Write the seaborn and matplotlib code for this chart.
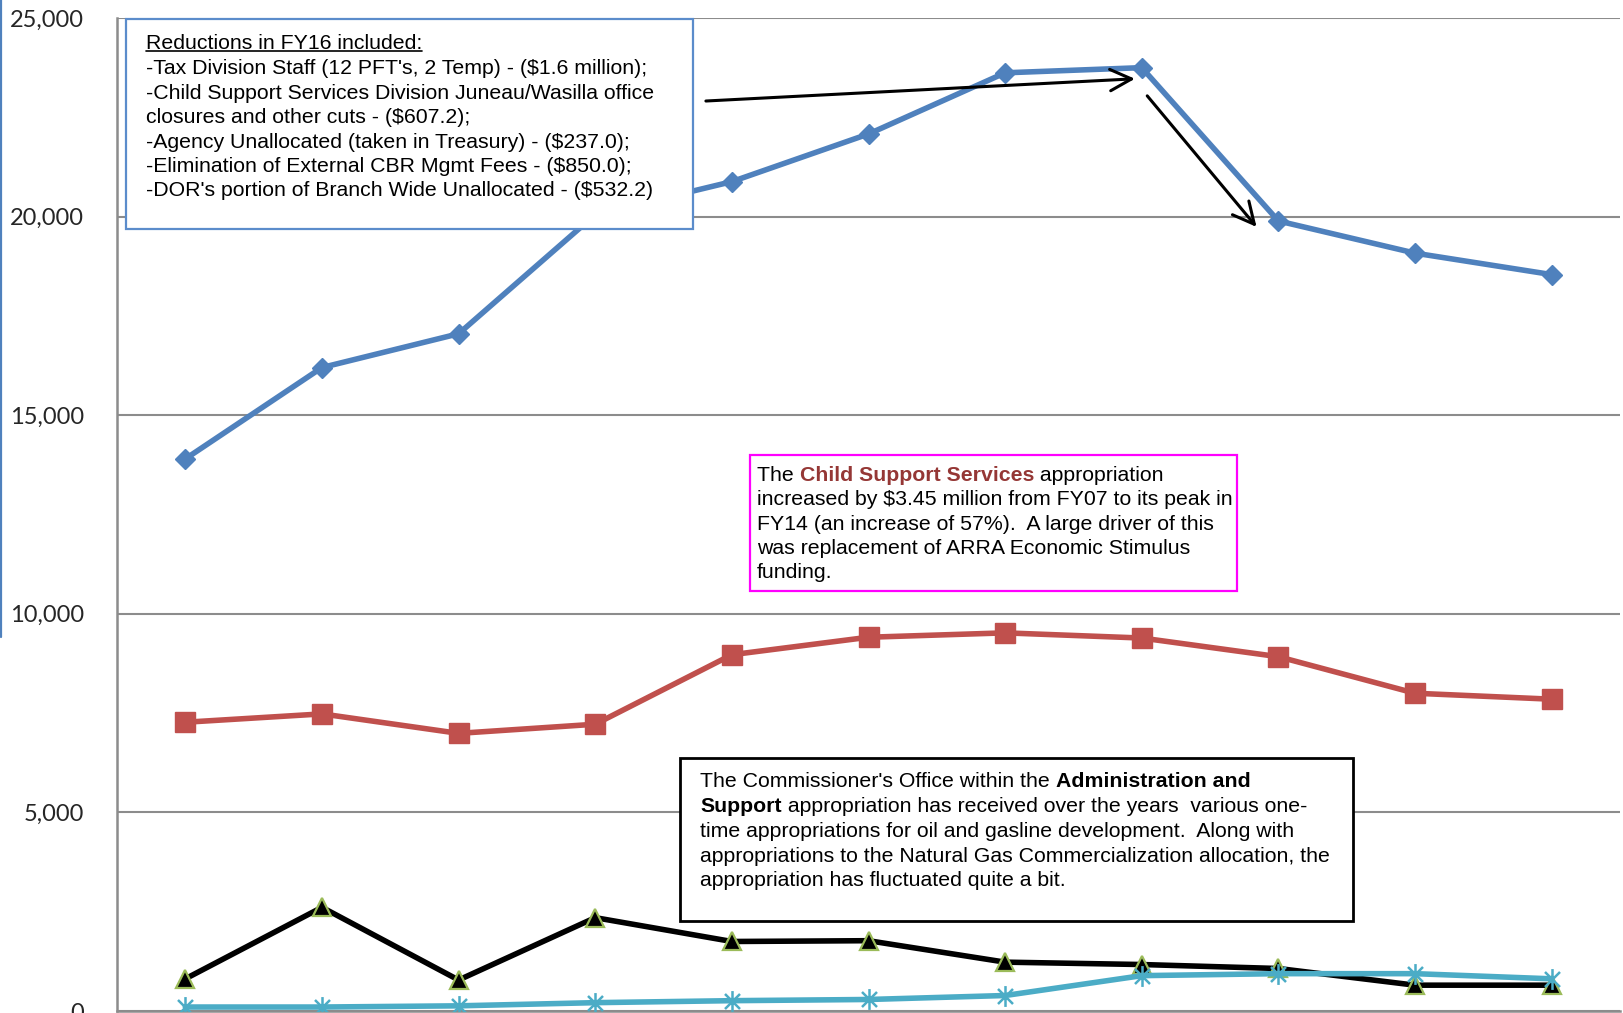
import matplotlib
matplotlib.use("Agg")
import matplotlib.pyplot as plt
import seaborn as sns
import pandas as pd
from matplotlib.patches import Rectangle
from matplotlib.lines import Line2D
from matplotlib.path import Path
from matplotlib import font_manager as fm

# Department of Revenue appropriations ($ thousands), FY08-FY18
years = ["FY08", "FY09", "FY10", "FY11", "FY12", "FY13",
         "FY14", "FY15", "FY16", "FY17", "FY18"]
taxation_treasury = [13900, 16200, 17050, 20050, 20880, 22080,
                     23620, 23750, 19890, 19080, 18540]
child_support = [7270, 7480, 6990, 7220, 8970, 9410,
                 9520, 9390, 8920, 8000, 7850]
admin_support = [810, 2610, 780, 2350, 1750, 1770,
                 1230, 1170, 1070, 650, 650]
other_approps = [100, 100, 130, 210, 260, 290,
                 390, 890, 940, 940, 810]
y_ticks = [0, 5000, 10000, 15000, 20000, 25000]

W, H = 1623, 1013
sns.set_style("white")
plt.rcParams["font.family"] = ["Liberation Sans", "DejaVu Sans"]

fig = plt.figure(figsize=(W / 100, H / 100), dpi=100)
ax = fig.add_axes([117 / W, (H - 1011) / H, (1620 - 117) / W, (1011 - 18) / H])

df = pd.DataFrame({
    "year": years * 4,
    "value": taxation_treasury + child_support + admin_support + other_approps,
    "series": (["Taxation and Treasury"] * 11 + ["Child Support Services"] * 11
               + ["Administration and Support"] * 11 + ["Other"] * 11),
})

asterisk = Path([(0, -1), (0, 1), (-0.72, -0.72), (0.72, 0.72), (-0.72, 0.72), (0.72, -0.72)],
                [Path.MOVETO, Path.LINETO, Path.MOVETO, Path.LINETO, Path.MOVETO, Path.LINETO])

styles = [
    ("Taxation and Treasury", dict(color="#4F81BD", marker="D", markersize=10.5,
                                   mfc="#4F81BD", mec="#4F81BD", mew=1)),
    ("Child Support Services", dict(color="#C0504D", marker="s", markersize=14.5,
                                    mfc="#C0504D", mec="#C0504D", mew=1)),
    ("Administration and Support", dict(color="black", marker="^", markersize=13,
                                        mfc="black", mec="#9BBB59", mew=1.6)),
    ("Other", dict(color="#4BACC6", marker=asterisk, markersize=15,
                   mfc="#4BACC6", mec="#4BACC6", mew=1.8)),
]
for i, (name, st) in enumerate(styles):
    sns.lineplot(data=df[df["series"] == name], x="year", y="value", ax=ax,
                 linewidth=4.0, legend=False, errorbar=None, sort=False,
                 zorder=3 + i, **st)

ax.set_xlim(-0.5, 10.5)
ax.set_ylim(0, 25000)
ax.set_xticks([])
ax.set_yticks(y_ticks)
ax.set_yticklabels([f"{v:,}" for v in y_ticks], fontsize=17, family="Lato")
ax.tick_params(axis="y", length=0, pad=24)
ax.set_xlabel("")
ax.set_ylabel("")
ax.yaxis.grid(True, color="#8C8C8C", linewidth=1.5)
ax.set_axisbelow(True)
for side in ("top", "right"):
    ax.spines[side].set_visible(False)
for side in ("left", "bottom"):
    ax.spines[side].set_color("#8C8C8C")
    ax.spines[side].set_linewidth(1.8)

# arrows marking the FY16 reductions
arrow_kw = dict(arrowstyle="->,head_length=0.7,head_width=0.35", color="black",
                lw=2.2, shrinkA=0, shrinkB=0, mutation_scale=22)
ax.annotate("", xy=(6.95, 23470), xytext=(3.81, 22910), arrowprops=arrow_kw, zorder=8)
ax.annotate("", xy=(7.84, 19740), xytext=(7.04, 23040), arrowprops=arrow_kw, zorder=8)

# thin blue rule at the left edge
fig.add_artist(Line2D([1 / W, 1 / W], [1.0, 1 - 637 / H], color="#4F81BD",
                      linewidth=1.6, transform=fig.transFigure))

renderer = fig.canvas.get_renderer()
fonts = {f.name for f in fm.fontManager.ttflist}
sans = "Liberation Sans"
narrow = "Liberation Sans Narrow" if "Liberation Sans Narrow" in fonts else sans


def text_width(s, size, family, weight="normal"):
    t = fig.text(0, 0, s, fontsize=size, family=family, weight=weight)
    w = t.get_window_extent(renderer).width
    t.remove()
    return w


def advance(s, size, family, weight):
    return text_width(s + "x", size, family, weight) - text_width("x", size, family, weight)


def fit_size(s, target_px, family, weight="normal"):
    return 10 * target_px / text_width(s, 10, family, weight)


def draw_line(x_px, center_px, segments, size, family):
    base = center_px + 0.36 * size * 100 / 72
    x = x_px
    for s, weight, color in segments:
        fig.text(x / W, 1 - base / H, s, fontsize=size, family=family,
                 weight=weight, color=color, va="baseline", ha="left", zorder=6)
        x += advance(s, size, family, weight)
    return x, base


def box(x0, y0, x1, y1, edge, lw):
    fig.add_artist(Rectangle((x0 / W, 1 - y1 / H), (x1 - x0) / W, (y1 - y0) / H,
                             transform=fig.transFigure, facecolor="white",
                             edgecolor=edge, linewidth=lw, zorder=5))


N, B = "normal", "bold"
K = "black"

# FY16 reductions note
box(126, 19, 693, 229, "#5B8CCB", 1.6)
lines1 = [
    "Reductions in FY16 included:",
    "-Tax Division Staff (12 PFT's, 2 Temp) - ($1.6 million);",
    "-Child Support Services Division Juneau/Wasilla office",
    "closures and other cuts - ($607.2);",
    "-Agency Unallocated (taken in Treasury) - ($237.0);",
    "-Elimination of External CBR Mgmt Fees - ($850.0);",
    "-DOR's portion of Branch Wide Unallocated - ($532.2)",
]
centers1 = [41, 66, 91, 115, 140, 164, 188]
s1 = fit_size(lines1[2], 511, sans)
for j, (txt, c) in enumerate(zip(lines1, centers1)):
    xe, base = draw_line(146, c, [(txt, N, K)], s1, sans)
    if j == 0:
        fig.add_artist(Line2D([146 / W, (146 + text_width(txt, s1, sans)) / W],
                              [1 - (base + 2.5) / H] * 2, color="black",
                              linewidth=1.2, transform=fig.transFigure, zorder=6))

# Child Support Services note
box(750, 455, 1237, 591, "#FF00FF", 1.6)
lines2 = [
    [("The ", N, K), ("Child Support Services", B, "#953735"), (" appropriation", N, K)],
    [("increased by $3.45 million from FY07 to its peak in", N, K)],
    [("FY14 (an increase of 57%).  A large driver of this", N, K)],
    [("was replacement of ARRA Economic Stimulus", N, K)],
    [("funding.", N, K)],
]
centers2 = [473, 497, 522, 546, 570]
s2 = fit_size("increased by $3.45 million from FY07 to its peak in", 477, sans)
for segs, c in zip(lines2, centers2):
    draw_line(757, c, segs, s2, sans)

# Administration and Support note
box(680, 758, 1353, 921, "black", 2.0)
lines3 = [
    [("The Commissioner's Office within the ", N, K), ("Administration and", B, K)],
    [("Support", B, K), (" appropriation has received over the years  various one-", N, K)],
    [("time appropriations for oil and gasline development.  Along with", N, K)],
    [("appropriations to the Natural Gas Commercialization allocation, the", N, K)],
    [("appropriation has fluctuated quite a bit.", N, K)],
]
centers3 = [779, 804, 829, 854, 878]
s3 = fit_size("appropriations to the Natural Gas Commercialization allocation, the", 632, narrow)
for segs, c in zip(lines3, centers3):
    draw_line(700, c, segs, s3, narrow)

fig.savefig("out.png", dpi=100)
